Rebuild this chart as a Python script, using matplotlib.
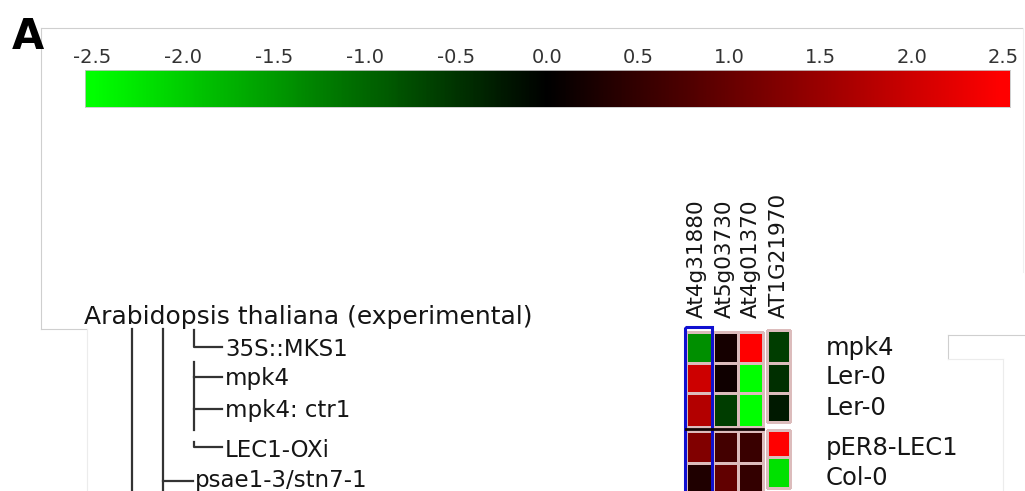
import numpy as np
import matplotlib
matplotlib.use("Agg")
import matplotlib.pyplot as plt
from matplotlib.colors import LinearSegmentedColormap
from matplotlib.patches import Rectangle

# data
scale_ticks = [-2.5, -2.0, -1.5, -1.0, -0.5, 0.0, 0.5, 1.0, 1.5, 2.0, 2.5]
genes = ['At4g31880', 'At5g03730', 'At4g01370', 'AT1G21970']
samples = ['35S::MKS1', 'mpk4', 'mpk4: ctr1', 'LEC1-OXi', 'psae1-3/stn7-1']
backgrounds = ['mpk4', 'Ler-0', 'Ler-0', 'pER8-LEC1', 'Col-0']
expr = np.array([
    [-1.4, 0.2, 2.5, -0.6],
    [2.0, 0.15, -2.5, -0.45],
    [1.75, -0.6, -2.5, -0.25],
    [1.25, 0.65, 0.55, 2.5],
    [0.3, 0.95, 0.5, -2.2],
])
title = 'Arabidopsis thaliana (experimental)'

W, H = 1025, 491
cmap = LinearSegmentedColormap.from_list('gbr', ['#00ff00', '#000000', '#ff0000'])
frame_c = '#cfcfcf'
text_c = '#151515'
line_c = '#333333'
grid_c = '#dcbcbc'

fig = plt.figure(figsize=(W / 100, H / 100), dpi=100)
ax = fig.add_axes([0, 0, 1, 1])
ax.set_xlim(0, W)
ax.set_ylim(H, 0)
ax.axis('off')

# screenshot frame
ax.plot([41, 1022], [28, 28], color=frame_c, lw=0.8)
ax.plot([41, 41], [28, 329], color=frame_c, lw=0.8)
ax.plot([41, 87], [329, 329], color=frame_c, lw=0.8)
ax.plot([87, 87], [329, 491], color='#ececec', lw=0.8)
ax.plot([1023, 1023], [28, 272], color='#f0f0f0', lw=0.8)
ax.plot([948, 1025], [335, 335], color=frame_c, lw=0.8)
ax.plot([948, 948], [335, 359], color=frame_c, lw=0.8)
ax.plot([948, 1003], [359, 359], color='#ececec', lw=0.8)
ax.plot([1003, 1003], [359, 491], color='#ececec', lw=0.8)

ax.text(12, 49, 'A', fontsize=30, fontweight='bold', color='black', va='baseline')

# colour scale
cax = fig.add_axes([85 / W, 1 - 107 / H, 925 / W, 37 / H])
grad = np.linspace(-2.54, 2.54, 512)[None, :]
cax.imshow(grad, cmap=cmap, vmin=-2.5, vmax=2.5, aspect='auto',
           extent=[-2.54, 2.54, 0, 1])
cax.set_xlim(-2.54, 2.54)
cax.set_yticks([])
cax.xaxis.tick_top()
cax.set_xticks(scale_ticks)
cax.set_xticklabels([f'{t:.1f}' for t in scale_ticks], fontsize=14, color='#333333')
cax.tick_params(axis='x', length=0, pad=2)
for s in cax.spines.values():
    s.set_color('#c8c8c8')
    s.set_linewidth(0.6)

# heatmap, first three genes
xe = [686, 712.5, 737.5, 763]
ax.pcolormesh(xe, [332, 363, 393, 427], expr[:3, :3], cmap=cmap, vmin=-2.5, vmax=2.5,
              edgecolors=grid_c, linewidth=0.8)
ax.pcolormesh(xe, [431, 463, 494], expr[3:, :3], cmap=cmap, vmin=-2.5, vmax=2.5,
              edgecolors=grid_c, linewidth=0.8)
ax.plot([686, 763], [429, 429], color='#120404', lw=2.0)
# fourth gene, separate column
xe4 = [767, 790]
ax.pcolormesh(xe4, [330, 363, 393, 422], expr[:3, 3:], cmap=cmap, vmin=-2.5, vmax=2.5,
              edgecolors=grid_c, linewidth=0.8)
ax.pcolormesh(xe4, [430, 457, 488], expr[3:, 3:], cmap=cmap, vmin=-2.5, vmax=2.5,
              edgecolors=grid_c, linewidth=0.8)
ax.add_patch(Rectangle((685, 327), 27, 170, fill=False, edgecolor='#1010d0', lw=2.2))

gene_x = [697, 725, 751, 779]
for gx, g in zip(gene_x, genes):
    ax.text(gx, 318, g, rotation=90, ha='center', va='bottom', fontsize=15.5, color=text_c)

# sample tree
ax.text(84, 324, title, fontsize=18, color=text_c, va='baseline')
row_y = [347, 377, 409, 447, 481]
label_base = [356, 385, 417, 457, 487]
ax.plot([132, 132], [329, 491], color=line_c, lw=1.6)
ax.plot([163, 163], [329, 491], color=line_c, lw=1.6)
ax.plot([194, 194, 222], [330, row_y[0], row_y[0]], color=line_c, lw=1.6)
ax.plot([194, 194], [362, 430], color=line_c, lw=1.6)
ax.plot([194, 222], [row_y[1], row_y[1]], color=line_c, lw=1.6)
ax.plot([194, 222], [row_y[2], row_y[2]], color=line_c, lw=1.6)
ax.plot([194, 194, 222], [442, row_y[3], row_y[3]], color=line_c, lw=1.6)
ax.plot([163, 193], [row_y[4], row_y[4]], color=line_c, lw=1.6)
for i, s in enumerate(samples):
    lx = 195 if i == 4 else 225
    ax.text(lx, label_base[i], s, fontsize=16.5, color=text_c, va='baseline')

bg_base = [355, 384, 415, 455, 485]
for b, s in zip(bg_base, backgrounds):
    ax.text(826, b, s, fontsize=17.5, color=text_c, va='baseline')

fig.savefig('out.png', dpi=100)
